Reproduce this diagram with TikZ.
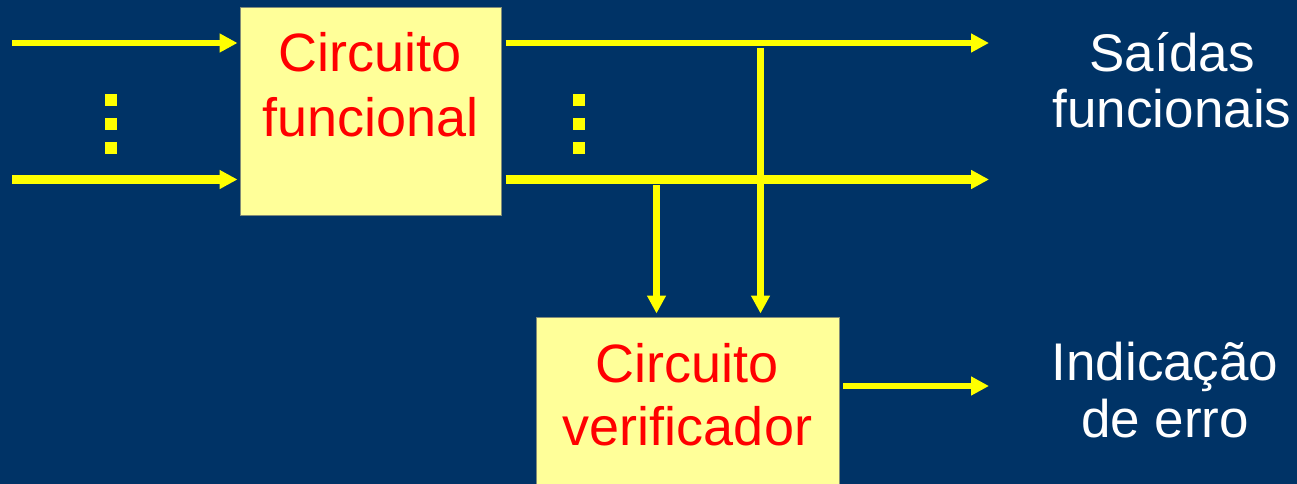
\documentclass[tikz,border=0pt]{standalone}
\usepackage{fontspec}
\setmainfont{Liberation Sans}
\usetikzlibrary{arrows.meta}

\definecolor{bg}{RGB}{0,51,102}
\definecolor{boxfill}{RGB}{255,255,153}
\definecolor{boxedge}{RGB}{130,140,120}
\definecolor{wire}{RGB}{255,255,0}
\definecolor{boxtext}{RGB}{255,0,0}

\begin{document}
\begin{tikzpicture}[x=1pt,y=-1pt,
  block/.style={draw=boxedge, line width=1pt, fill=boxfill, inner sep=0pt, anchor=north west},
  btext/.style={text=boxtext, font=\fontsize{54}{64}\selectfont, inner sep=0pt, anchor=base},
  ltext/.style={text=white, font=\fontsize{53}{60}\selectfont, inner sep=0pt, anchor=base},
  wirearrow/.style={draw=wire, -{Triangle[length=18pt,width=18pt]}},
  wiredot/.style={fill=wire, minimum size=12pt, inner sep=0pt}]

  % page and background
  \path[use as bounding box] (0,0) rectangle (1297,484);
  \clip (0,0) rectangle (1297,484);
  \fill[bg] (0,0) rectangle (1297,484);

  % blocks
  \node[block, minimum width=261pt, minimum height=208pt] (func) at (240,7) {};
  \node[block, minimum width=303pt, minimum height=180pt] (chk) at (536,317) {};

  % block captions
  \node[btext] (funcA) at (370.5,72) {Circuito};
  \node[btext] (funcB) at (370.5,136) {funcional};
  \node[btext] (chkA) at (687.5,382) {Circuito};
  \node[btext] (chkB) at (687.5,445) {verificador};

  % output labels
  \node[ltext] (outA) at (1172,72) {Saídas};
  \node[ltext] (outB) at (1172,128) {funcionais};
  \node[ltext] (errA) at (1165,380) {Indicação};
  \node[ltext] (errB) at (1165,437) {de erro};

  % input wires
  \coordinate (in1) at (12,43);
  \coordinate (in2) at (12,179.5);
  \draw[wirearrow, line width=6pt, shorten >=2.5pt] (in1) -- (in1 -| func.west);
  \draw[wirearrow, line width=9pt, shorten >=2.5pt] (in2) -- (in2 -| func.west);

  % output wires
  \coordinate (out1) at (989,43);
  \coordinate (out2) at (989,179.5);
  \draw[wirearrow, line width=6pt, shorten <=3.5pt] (out1 -| func.east) -- (out1);
  \draw[wirearrow, line width=9pt, shorten <=3.5pt] (out2 -| func.east) -- (out2);

  % taps into the checker
  \coordinate (tap1) at (760.5,48);
  \coordinate (tap2) at (656.5,185);
  \draw[wirearrow, line width=7pt, shorten >=3.5pt] (tap1) -- (tap1 |- chk.north);
  \draw[wirearrow, line width=7pt, shorten >=3.5pt] (tap2) -- (tap2 |- chk.north);

  % error output
  \coordinate (err) at (989,386);
  \draw[wirearrow, line width=6.5pt, shorten <=3pt] (err -| chk.east) -- (err);

  % ellipsis dots
  \foreach \y [count=\i] in {100,124,148} {
    \node[wiredot] (dl\i) at (111,\y) {};
    \node[wiredot] (dr\i) at (578.5,\y) {};
  }
\end{tikzpicture}
\end{document}
